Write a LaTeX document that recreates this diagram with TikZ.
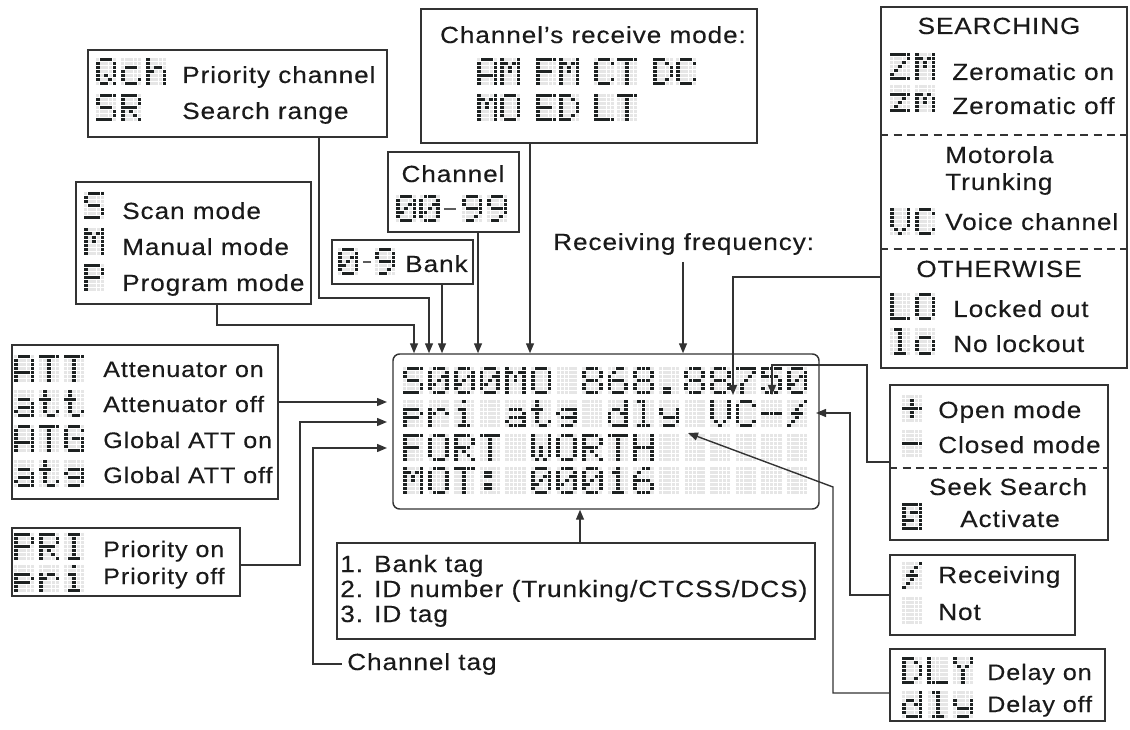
\documentclass[tikz,border=0pt]{standalone}
\usepackage{fontspec}
\setmainfont{Liberation Sans}[FakeStretch=1.12,LetterSpace=4,FakeBold=0.3]
\usetikzlibrary{fit,arrows.meta}
\definecolor{linec}{HTML}{333333}
\definecolor{textc}{HTML}{1A1A1A}
\definecolor{lcdon}{HTML}{1E2222}
\definecolor{lcdoff}{HTML}{E6E6E6}
\newcommand\txtN{\fontsize{17.5pt}{20pt}\selectfont}
\newcommand\txtS{\fontsize{16.8pt}{20pt}\selectfont}
\newcommand\txtB{\fontsize{17.6pt}{20pt}\selectfont}
\newcommand\defglyph[2]{\expandafter\def\csname lcdg#1\endcsname{#2}}
\def\lcdpx{4.2}\def\lcdpy{4}\def\lcdsx{3.4}\def\lcdsy{3.2}\def\lcdox{3.8}\def\lcdoy{3.6}
\def\lcdbit#1#2{\ifnum#2=1 \fill[lcdon] ({#1*\lcdpx-0.2},{\ri*\lcdpy-0.2}) rectangle ++(\lcdox,\lcdoy);\fi}
\def\lcdrowbits#1#2#3#4#5\relax{\lcdbit{0}{#1}\lcdbit{1}{#2}\lcdbit{2}{#3}\lcdbit{3}{#4}\lcdbit{4}{#5}}
\newcommand\lcd[3]{\begin{scope}[shift={(#1,#2)}]
  \foreach \ci in {0,...,4}{\foreach \cj in {0,...,6}{\fill[lcdoff] ({\ci*\lcdpx},{\cj*\lcdpy}) rectangle ++(\lcdsx,\lcdsy);}}
  \edef\lcdcur{\csname lcdg#3\endcsname}
  \foreach \rb [count=\ri from 0] in \lcdcur {\expandafter\lcdrowbits\rb\relax}
  \end{scope}}
\newcommand\lcdrow[4]{\foreach \g [count=\k from 0] in {#4} {\lcd{#1+\k*#3}{#2}{\g}}}
\defglyph{sp}{00000,00000,00000,00000,00000,00000,00000}
\defglyph{S}{01111,10000,10000,01110,00001,00001,11110}
\defglyph{0}{01110,10001,10011,10101,11001,10001,01110}
\defglyph{M}{10001,11011,10101,10101,10001,10001,10001}
\defglyph{O}{01110,10001,10001,10001,10001,10001,01110}
\defglyph{8}{01110,10001,10001,01110,10001,10001,01110}
\defglyph{6}{00110,01000,10000,11110,10001,10001,01110}
\defglyph{dot}{00000,00000,00000,00000,00000,01100,01100}
\defglyph{7}{11111,00001,00010,00100,01000,01000,01000}
\defglyph{5}{11111,10000,11110,00001,00001,10001,01110}
\defglyph{p}{00000,00000,11110,10001,11110,10000,10000}
\defglyph{r}{00000,00000,10110,11001,10000,10000,10000}
\defglyph{i}{00100,00000,01100,00100,00100,00100,01110}
\defglyph{a}{00000,00000,01110,00001,01111,10001,01111}
\defglyph{t}{01000,01000,11100,01000,01000,01001,00110}
\defglyph{g}{00000,00000,01111,10001,01111,00001,01110}
\defglyph{d}{00001,00001,01101,10011,10001,10001,01111}
\defglyph{l}{01100,00100,00100,00100,00100,00100,01110}
\defglyph{y}{00000,00000,10001,10001,01111,00001,01110}
\defglyph{V}{10001,10001,10001,10001,10001,01010,00100}
\defglyph{C}{01110,10001,10000,10000,10000,10001,01110}
\defglyph{minus}{00000,00000,00000,11111,00000,00000,00000}
\defglyph{bolt}{00001,00010,00100,01110,00100,01000,10000}
\defglyph{F}{11111,10000,10000,11110,10000,10000,10000}
\defglyph{R}{11110,10001,10001,11110,10100,10010,10001}
\defglyph{T}{11111,00100,00100,00100,00100,00100,00100}
\defglyph{W}{10001,10001,10001,10101,10101,10101,01010}
\defglyph{H}{10001,10001,10001,11111,10001,10001,10001}
\defglyph{colon}{00000,01100,01100,00000,01100,01100,00000}
\defglyph{1}{00100,01100,00100,00100,00100,00100,01110}
\defglyph{A}{01110,10001,10001,10001,11111,10001,10001}
\defglyph{G}{01110,10001,10000,10111,10001,10001,01111}
\defglyph{P}{11110,10001,10001,11110,10000,10000,10000}
\defglyph{I}{01110,00100,00100,00100,00100,00100,01110}
\defglyph{Q}{01110,10001,10001,10001,10101,10010,01101}
\defglyph{c}{00000,00000,01110,10000,10000,10001,01110}
\defglyph{h}{10000,10000,10110,11001,10001,10001,10001}
\defglyph{Z}{11111,00001,00010,00100,01000,10000,11111}
\defglyph{z}{00000,00000,11111,00010,00100,01000,11111}
\defglyph{m}{00000,00000,11010,10101,10101,10001,10001}
\defglyph{L}{10000,10000,10000,10000,10000,10000,11111}
\defglyph{o}{00000,00000,01110,10001,10001,10001,01110}
\defglyph{plus}{00000,00100,00100,11111,00100,00100,00000}
\defglyph{D}{11100,10010,10001,10001,10001,10010,11100}
\defglyph{Y}{10001,10001,01010,00100,00100,00100,00100}
\defglyph{9}{01110,10001,10001,01111,00001,00010,01100}
\defglyph{E}{11111,10000,10000,11110,10000,10000,11111}
\defglyph{seek}{11111,10001,10111,10001,11101,10001,11111}
\tikzset{
  box/.style={draw=linec, line width=1.1pt, inner sep=0pt, fit={#1}},
  lbl/.style={inner sep=0pt, anchor=base west, font=\txtN, text=textc},
  lbls/.style={inner sep=0pt, anchor=base west, font=\txtS, text=textc},
  lblb/.style={inner sep=0pt, anchor=base west, font=\txtB, text=textc},
  lblc/.style={inner sep=0pt, anchor=base, font=\txtN, text=textc},
  conn/.style={draw=linec, line width=1.05pt},
  arr/.style={conn, -{Triangle[length=7.5pt,width=6pt]}},
  dashl/.style={draw=linec, line width=0.9pt, dash pattern=on 6pt off 4pt},
  tick/.style={draw=linec!80, line width=1.1pt}
}
\begin{document}
\begin{tikzpicture}[x=0.75pt,y=-0.75pt]
\useasboundingbox (0,0) rectangle (1130,730);
% ---------- boxes ----------
\node[box={(393,354)(819,509)}, rounded corners=5pt] (lcd) {};
\node[box={(88,50)(387,137)}] (qch) {};
\node[box={(76,182)(311,304)}] (scanb) {};
\node[box={(332,240)(473,284)}] (bankb) {};
\node[box={(388,152)(519,232)}] (chanb) {};
\node[box={(421,9)(757,143)}] (rcvb) {};
\node[box={(881,7)(1127,368)}] (srch) {};
\node[box={(890,385)(1108,540)}] (openb) {};
\node[box={(890,555)(1075,635)}] (recb) {};
\node[box={(890,649)(1105,721)}] (dlyb) {};
\node[box={(12,345)(278,499)}] (attb) {};
\node[box={(12,528)(240,596)}] (prib) {};
\node[box={(337,543)(815,639)}] (tagb) {};
\draw[dashl] (srch.west |- 0,135) -- (srch.east |- 0,135);
\draw[dashl] (srch.west |- 0,249) -- (srch.east |- 0,249);
\draw[dashl] (openb.west |- 0,468) -- (openb.east |- 0,468);
% ---------- display ----------
\lcdrow{403}{367}{25.6}{S,0,0,0,M,O,sp,8,6,8,dot,8,8,7,5,0}
\lcdrow{403}{400}{25.6}{p,r,i,sp,a,t,g,sp,d,l,y,sp,V,C,minus,bolt}
\lcdrow{403}{434}{25.6}{F,O,R,T,sp,W,O,R,T,H,sp,sp,sp,sp,sp,sp}
\lcdrow{403}{467}{25.6}{M,O,T,colon,sp,0,0,0,1,6,sp,sp,sp,sp,sp,sp}
% ---------- legend glyphs ----------
\lcdrow{96}{58}{25}{Q,c,h}
\lcdrow{96}{94}{25}{S,R}
\lcd{84}{192}{S}\lcd{84}{228}{M}\lcd{84}{264}{P}
\lcd{338}{248}{0}\lcd{375}{248}{9}
\draw[tick] (363,262) -- (371,262);
\lcdrow{396}{195}{23.5}{0,0}
\draw[tick] (444,209) -- (456,209);
\lcdrow{462}{195}{25}{9,9}
\lcdrow{477}{58}{23}{A,M}\lcdrow{536}{58}{23}{F,M}\lcdrow{594}{58}{23}{C,T}\lcdrow{653}{58}{23}{D,C}
\lcdrow{477}{94}{23}{M,O}\lcdrow{536}{94}{23}{E,D}\lcdrow{594}{94}{23}{L,T}
\lcdrow{890}{53}{25}{Z,M}
\lcdrow{890}{85}{25}{z,m}
\lcdrow{890}{208}{25}{V,C}
\lcdrow{890}{293}{25}{L,O}
\lcdrow{890}{328}{25}{l,o}
\lcd{902}{395}{plus}\lcd{902}{430}{minus}\lcd{902}{503}{seek}
\lcd{902}{562}{bolt}\lcd{902}{597}{sp}
\lcdrow{902}{657}{25.5}{D,L,Y}
\lcdrow{902}{691}{25.5}{d,l,y}
\lcdrow{14}{355}{25}{A,T,T}
\lcdrow{14}{390}{25}{a,t,t}
\lcdrow{14}{425}{25}{A,T,G}
\lcdrow{14}{460}{25}{a,t,g}
\lcdrow{14}{533}{25}{P,R,I}
\lcdrow{14}{565}{25}{p,r,i}
% ---------- texts ----------
\node[lbl] (t1) at (182,83) {Priority channel};
\node[lbl] (t2) at (182,119) {Search range};
\node[lbl] (t3) at (122,219) {Scan mode};
\node[lbl] (t4) at (122,255) {Manual mode};
\node[lbl] (t5) at (122,291) {Program mode};
\node[lbl] (t6) at (405,272) {Bank};
\node[lblc] (t7) at (453,182) {Channel};
\node[lblc] (t8) at (593,43) {Channel{\char39}s receive mode:};
\node[lbl] (freq) at (553,250) {Receiving frequency:};
\node[lblc] (t9) at (999,34) {SEARCHING};
\node[lbl] (t10) at (952,80) {Zeromatic on};
\node[lbl] (t11) at (952,114) {Zeromatic off};
\node[lbl] (t12) at (945,163) {Motorola};
\node[lbl] (t13) at (945,190) {Trunking};
\node[lbl] (t14) at (945,230) {Voice channel};
\node[lblc] (t15) at (999,277) {OTHERWISE};
\node[lbl] (t16) at (953,317) {Locked out};
\node[lbl] (t17) at (953,352) {No lockout};
\node[lbl] (t18) at (938,418) {Open mode};
\node[lbl] (t19) at (938,453) {Closed mode};
\node[lblc] (t20) at (1008,495) {Seek Search};
\node[lblc] (t21) at (1010,527) {Activate};
\node[lbl] (t22) at (938,583) {Receiving};
\node[lbl] (t23) at (938,620) {Not};
\node[lbls] (t24) at (987,680) {Delay on};
\node[lbls] (t25) at (987,712) {Delay off};
\node[lbls] (t26) at (103,377) {Attenuator on};
\node[lbls] (t27) at (103,412) {Attenuator off};
\node[lbls] (t28) at (103,448) {Global ATT on};
\node[lbls] (t29) at (103,483) {Global ATT off};
\node[lbls] (t30) at (103,557) {Priority on};
\node[lbls] (t31) at (103,584) {Priority off};
\node[lblb] (t32) at (340,572) {1. Bank tag};
\node[lblb] (t33) at (340,597) {2. ID number (Trunking/CTCSS/DCS)};
\node[lblb] (t34) at (340,622) {3. ID tag};
\node[lbl] (ctag) at (347,670) {Channel tag};
% ---------- connectors ----------
\coordinate (fq) at (683,262);
\draw[arr] (scanb.south -| 217,0) -- (217,325) -| (lcd.north -| 414,0);
\draw[arr] (qch.south -| 319,0) -- (319,298) -| (lcd.north -| 429,0);
\draw[arr] (bankb.south -| 442,0) -- (lcd.north -| 442,0);
\draw[arr] (chanb.south -| 478,0) -- (lcd.north -| 478,0);
\draw[arr] (rcvb.south -| 530,0) -- (lcd.north -| 530,0);
\draw[arr] (fq) -- (lcd.north -| fq);
\draw[arr] (srch.west |- 0,277) -| (733,395);
\draw[arr] (openb.west |- 0,462) -| (867,365) -| (772,395);
\draw[arr] (recb.west |- 0,595) -| (850,413) -- (816,413);
\draw[arr] (dlyb.west |- 0,693) -| (833,487) -- (688,433);
\draw[arr] (attb.east |- 0,402) -- (387,402);
\draw[arr] (prib.east |- 0,565) -| (300,422) -- (387,422);
\draw[arr] ([xshift=-4pt]ctag.west) -| (313,448) -- (387,448);
\draw[arr] (tagb.north -| 580,0) -- (lcd.south -| 580,0);
\end{tikzpicture}
\end{document}
